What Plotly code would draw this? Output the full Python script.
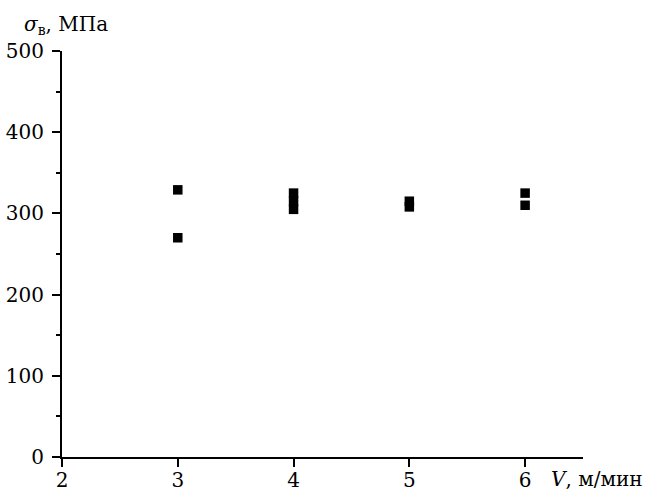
import plotly.graph_objects as go

speed = [3, 3, 4, 4, 4, 5, 5, 6, 6]
strength = [329, 270, 325, 315, 305, 315, 308, 325, 310]

x_ticks = [2, 3, 4, 5, 6]
y_ticks = [0, 100, 200, 300, 400, 500]

FONT = "DejaVu Serif"

fig = go.Figure()
fig.add_trace(go.Scatter(
    x=speed, y=strength, mode="markers",
    marker=dict(symbol="square", size=9.5, color="black", line=dict(width=0)),
    showlegend=False, cliponaxis=False,
))

fig.update_layout(
    width=648, height=494,
    margin=dict(l=62, r=65, t=51, b=37, autoexpand=False),
    paper_bgcolor="white", plot_bgcolor="white",
    font=dict(family=FONT, size=20, color="black"),
    xaxis=dict(
        range=[2, 6.5], tickvals=x_ticks, ticktext=[str(v) for v in x_ticks],
        showgrid=False, zeroline=False, showline=True, linecolor="black", linewidth=2,
        ticks="outside", ticklen=8, tickwidth=2, tickcolor="black",
        ticklabelstandoff=-4, automargin=False,
    ),
    yaxis=dict(
        range=[0, 500], tickvals=y_ticks, ticktext=[str(v) for v in y_ticks],
        showgrid=False, zeroline=False, showline=True, linecolor="black", linewidth=2,
        ticks="outside", ticklen=8, tickwidth=2, tickcolor="black",
        minor=dict(dtick=50, tick0=0, ticks="outside", ticklen=4, tickwidth=2, tickcolor="black", showgrid=False),
        ticklabelstandoff=4, automargin=False,
    ),
    annotations=[
        dict(text="<i>σ</i><sub>в</sub>, МПа", xref="paper", yref="paper",
             x=(22 - 62) / 521, y=1 + 26 / 406, xanchor="left", yanchor="middle",
             showarrow=False, font=dict(family=FONT, size=20, color="black")),
        dict(text="<i>V</i>, м/мин", xref="paper", yref="paper",
             x=(549 - 62) / 521, y=-22 / 406, xanchor="left", yanchor="middle",
             showarrow=False, font=dict(family=FONT, size=20, color="black")),
    ],
)

fig.write_html("out.html", config={"displayModeBar": False},
               post_script="document.body.style.margin='0';document.body.style.overflow='hidden';")
